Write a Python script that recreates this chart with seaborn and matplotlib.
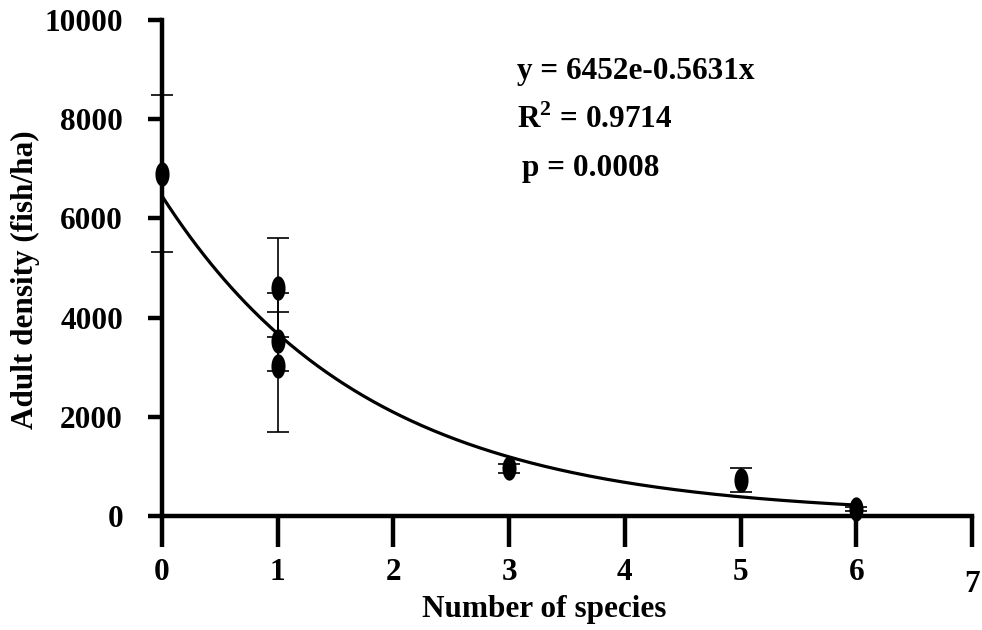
import numpy as np
import pandas as pd
import matplotlib
matplotlib.use("Agg")
import matplotlib.pyplot as plt
from matplotlib.path import Path
import seaborn as sns

# ---- data ----
species = [0, 1, 1, 1, 3, 5, 6]
density = [6900, 4600, 3520, 3020, 960, 730, 150]
err_low = [1580, 1000, 600, 1320, 90, 240, 40]
err_high = [1580, 1000, 600, 1470, 80, 240, 40]

fit_a = 6452
fit_b = -0.5631
fit_xmin, fit_xmax = 0, 6

x_ticks = [0, 1, 2, 3, 4, 5, 6, 7]
y_ticks = [0, 2000, 4000, 6000, 8000, 10000]

eq_text = "y = 6452e-0.5631x"
r2_text = r"R$^{\mathbf{2}}$ = 0.9714"
p_text = "p = 0.0008"

# ---- style ----
sns.set_theme(style="white")
plt.rcParams["font.family"] = ["Liberation Serif", "DejaVu Serif"]
plt.rcParams["font.weight"] = "bold"
plt.rcParams["mathtext.fontset"] = "custom"
plt.rcParams["mathtext.rm"] = "Liberation Serif:bold"
plt.rcParams["mathtext.bf"] = "Liberation Serif:bold"
for k in ["text.color", "axes.labelcolor", "xtick.color", "ytick.color",
          "axes.edgecolor"]:
    plt.rcParams[k] = "black"

FS = 22.5

fig = plt.figure(figsize=(9.82, 6.30), dpi=100)
ax = fig.add_axes([162 / 982, 1 - 516 / 630, (972 - 162) / 982, (516 - 20) / 630])

df = pd.DataFrame({"species": species, "density": density})

# fitted curve from the equation shown on the chart
fx = np.linspace(fit_xmin, fit_xmax, 300)
fit_df = pd.DataFrame({"x": fx, "y": fit_a * np.exp(fit_b * fx)})
sns.lineplot(data=fit_df, x="x", y="y", ax=ax, color="black", lw=2.3, zorder=3)

# error bars
ax.errorbar(species, density, yerr=[err_low, err_high], fmt="none",
            ecolor="black", elinewidth=1.2, capsize=8, capthick=1.2,
            zorder=4, clip_on=False)

# elliptical markers
t = np.linspace(0, 2 * np.pi, 60)
ell = Path(np.column_stack([0.58 * np.cos(t), np.sin(t)]), closed=True)
sns.scatterplot(data=df, x="species", y="density", ax=ax, marker=ell,
                s=17.5 ** 2, color="black", edgecolor="black", linewidth=0,
                zorder=5, clip_on=False)

ax.set_xlim(0, 7)
ax.set_ylim(0, 10000)
ax.set_xticks(x_ticks)
ax.set_yticks(y_ticks)
ax.set_xticklabels([str(v) for v in x_ticks], fontsize=FS, fontweight="bold")
ax.set_yticklabels([str(v) for v in y_ticks], fontsize=FS, fontweight="bold")

for s in ["top", "right"]:
    ax.spines[s].set_visible(False)
for s in ["left", "bottom"]:
    ax.spines[s].set_linewidth(3.2)
    ax.spines[s].set_color("black")
    ax.spines[s].set_zorder(2)

ax.tick_params(axis="x", direction="out", length=22, width=3.2, pad=8,
               color="black", bottom=True)
ax.tick_params(axis="y", direction="out", length=10, width=3.2, pad=18,
               color="black", left=True)
# last x tick label sits lower in the reference
ax.xaxis.get_major_ticks()[-1].set_pad(17)

ax.set_xlabel("Number of species", fontsize=FS, fontweight="bold")
ax.set_ylabel("Adult density (fish/ha)", fontsize=FS, fontweight="bold")
ax.xaxis.set_label_coords(0.472, -0.159)
ax.yaxis.set_label_coords(-0.151, 0.476)

ax.text(3.07, 8810, eq_text, fontsize=FS, fontweight="bold", va="baseline", ha="left")
ax.text(3.07, 7830, r2_text, fontsize=FS, fontweight="bold", va="baseline", ha="left")
ax.text(3.11, 6860, p_text, fontsize=FS, fontweight="bold", va="baseline", ha="left")

ax.set_facecolor("white")
fig.patch.set_facecolor("white")
fig.savefig("out.png", dpi=100)
